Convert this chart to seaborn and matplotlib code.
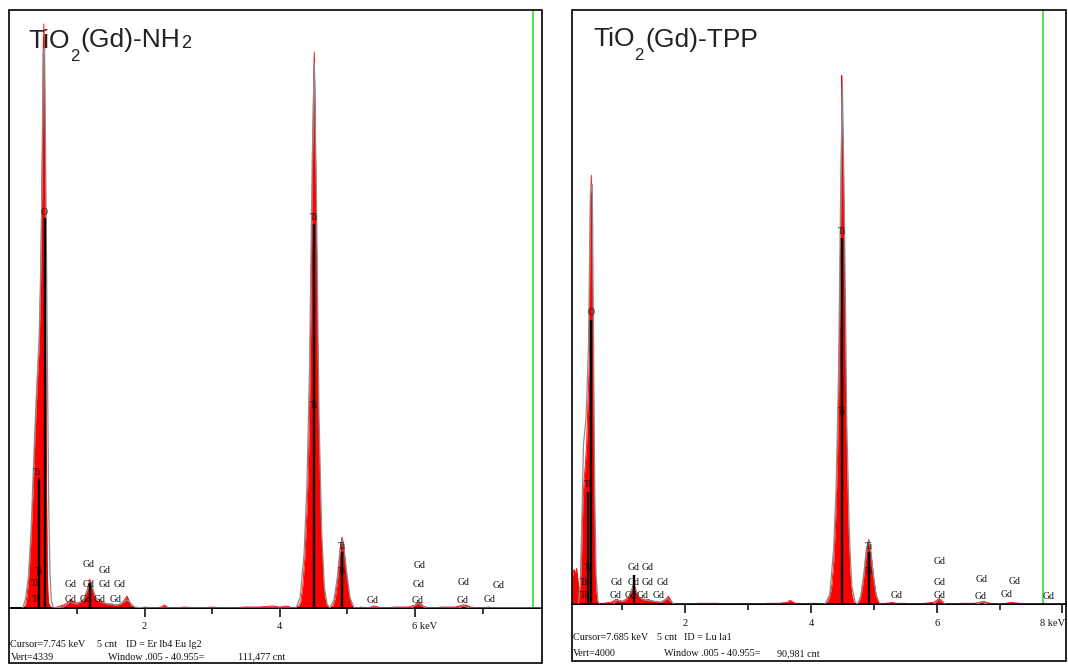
import matplotlib
matplotlib.use("Agg")
import matplotlib.pyplot as plt
from matplotlib.patches import Rectangle
from matplotlib.transforms import blended_transform_factory, offset_copy
import seaborn as sns

# ---------------- TiO2(Gd)-NH2 spectrum (counts per channel) ----------------
nh2_kev = [0.20, 0.22, 0.24, 0.26, 0.28, 0.30, 0.32, 0.34, 0.36, 0.38, 0.40, 0.42, 0.44, 0.46,
           0.48, 0.49, 0.50, 0.51, 0.52, 0.53, 0.54, 0.55, 0.56, 0.57, 0.58, 0.60, 0.62,
           0.66, 0.70, 0.75, 0.80, 0.85, 0.90, 0.95, 1.00, 1.05, 1.10, 1.15, 1.19, 1.22, 1.26,
           1.30, 1.35, 1.40, 1.45, 1.50, 1.55, 1.60, 1.65, 1.70, 1.74, 1.77, 1.80, 1.85, 1.90,
           2.00, 2.10, 2.25, 2.29, 2.33, 2.40, 2.60, 2.80, 3.00, 3.20, 3.50, 3.70, 3.90, 4.00,
           4.10, 4.20,
           4.25, 4.28, 4.31, 4.34, 4.37, 4.40, 4.42, 4.44, 4.46, 4.48, 4.50, 4.51, 4.52, 4.54,
           4.56, 4.58, 4.60, 4.62, 4.64, 4.66, 4.69, 4.72,
           4.76, 4.79, 4.82, 4.85, 4.88, 4.90, 4.92, 4.94, 4.96, 4.99, 5.02, 5.05, 5.08, 5.11,
           5.20, 5.30, 5.40, 5.50, 5.70, 5.90, 6.00, 6.04, 6.08, 6.12, 6.20, 6.40, 6.60, 6.70,
           6.75, 6.82, 7.00, 7.10, 7.20, 7.50, 7.87]
nh2_cnt = [0, 7, 22, 87, 181, 327, 508, 726, 980, 1270, 1487, 1705, 1901, 2322,
           3048, 3410, 4063, 4238, 3773, 2902, 1669, 798, 290, 109, 36, 15, 0,
           0, 7, 15, 22, 36, 58, 44, 36, 44, 65, 131, 210, 145, 73,
           51, 44, 36, 29, 29, 22, 22, 29, 58, 87, 51, 15, 7, 0,
           7, 0, 7, 22, 7, 0, 7, 0, 7, 0, 7, 7, 15, 7,
           15, 0,
           7, 15, 44, 160, 363, 689, 980, 1451, 2141, 3048, 3882, 4034, 3664, 2794,
           1850, 1161, 689, 435, 218, 87, 22, 0,
           0, 22, 73, 181, 348, 457, 515, 464, 363, 218, 102, 36, 7, 0,
           7, 0, 15, 0, 7, 7, 22, 44, 36, 15, 0, 7, 7, 22,
           22, 7, 0, 7, 0, 0, 0]
nh2_fit_kev = [0.20, 0.24, 0.28, 0.32, 0.36, 0.40, 0.44, 0.47, 0.50, 0.52, 0.54, 0.56, 0.58,
               0.60, 0.62, 0.65,
               0.80, 0.90, 1.00, 1.10, 1.20, 1.28, 1.40, 1.60, 1.75, 1.85, 2.00,
               4.24, 4.30, 4.36, 4.40, 4.44, 4.48, 4.51, 4.54, 4.58, 4.62, 4.66, 4.70, 4.74,
               4.80, 4.85, 4.89, 4.92, 4.95, 4.99, 5.04, 5.10,
               5.95, 6.05, 6.15, 6.65, 6.72, 6.80, 7.87]
nh2_fit_cnt = [0, 73, 218, 544, 1088, 1560, 1959, 2612, 4027, 4063, 3048, 1887, 798,
               254, 58, 0,
               7, 44, 29, 58, 189, 73, 36, 22, 58, 7, 0,
               0, 73, 399, 871, 1741, 3265, 3955, 3048, 1379, 544, 145, 29, 0,
               58, 218, 421, 493, 435, 254, 73, 0,
               0, 36, 0, 0, 15, 0, 0]
nh2_marker_kev = [0.52, 0.44, 4.506, 4.925, 1.19]
nh2_marker_cnt = [2830, 943, 2786, 406, 181]
nh2_label_text = ["O", "Ti", "Ti", "Ti", "Ti", "Ti", "Ti", "Ti", "Ti"] + ["Gd"] * 18
nh2_label_kev = [0.512, 0.408, 0.442, 0.379, 0.393, 4.506, 4.506, 4.925, 4.925,
                 1.173, 1.404, 0.911, 1.173, 1.414, 1.636, 0.911, 1.129, 1.340, 1.577,
                 5.374, 6.064, 6.049, 6.034, 6.725, 6.700, 7.243, 7.110]
nh2_label_cnt = [2873, 980, 268, 179, 65, 2830, 1466, 445, 263,
                 317, 271, 167, 167, 167, 167, 63, 63, 63, 63,
                 58, 305, 167, 58, 186, 58, 162, 63]
nh2_cursor_kev = 7.745
nh2_vert = 4339
nh2_major = [2, 4, 6]
nh2_tick_text = ["2", "4", "6 keV"]
nh2_minor = [1, 3, 5, 7]
nh2_status = ["Cursor=7.745 keV", "5 cnt", "ID = Er lb4 Eu lg2",
              "Vert=4339", "Window .005 - 40.955=", "111,477 cnt"]

# ---------------- TiO2(Gd)-TPP spectrum (counts per channel) ----------------
tpp_kev = [0.19, 0.21, 0.23, 0.25, 0.27, 0.29, 0.31, 0.33, 0.35, 0.37, 0.39, 0.41, 0.43, 0.45,
           0.47, 0.48, 0.49, 0.505, 0.52, 0.54, 0.56, 0.58, 0.60, 0.62,
           0.65, 0.70, 0.80, 0.85, 0.90, 0.95, 1.00, 1.05, 1.10, 1.15, 1.18, 1.21, 1.25, 1.30,
           1.35, 1.40, 1.45, 1.50, 1.55, 1.60, 1.65, 1.70, 1.73, 1.76, 1.80, 1.85,
           2.00, 2.10, 2.20, 2.30, 2.50, 2.70, 2.90, 3.10, 3.30, 3.50, 3.62, 3.67, 3.72, 3.80,
           4.00, 4.10, 4.18,
           4.22, 4.26, 4.30, 4.33, 4.36, 4.39, 4.42, 4.44, 4.46, 4.48, 4.49, 4.50, 4.52, 4.54,
           4.56, 4.58, 4.60, 4.62, 4.65, 4.68, 4.71,
           4.74, 4.77, 4.80, 4.83, 4.86, 4.89, 4.92, 4.94, 4.97, 5.00, 5.03, 5.06, 5.09,
           5.20, 5.30, 5.35, 5.50, 5.60, 5.80, 5.95, 6.00, 6.04, 6.08, 6.12, 6.20, 6.40, 6.60,
           6.68, 6.74, 6.80, 6.90, 7.10, 7.20, 7.30, 7.50, 7.70, 8.06]
tpp_cnt = [101, 202, 236, 202, 242, 168, 81, 121, 337, 673, 841, 942, 1077, 1346,
           1595, 2315, 2692, 2888, 2154, 1037, 363, 74, 20, 0,
           0, 7, 13, 20, 34, 27, 20, 27, 54, 101, 141, 101, 54, 34,
           27, 34, 27, 20, 20, 13, 20, 40, 54, 34, 7, 0,
           7, 0, 7, 7, 7, 0, 7, 0, 7, 7, 13, 27, 13, 0,
           7, 7, 0,
           0, 13, 54, 121, 269, 538, 942, 1414, 2019, 2894, 3561, 3366, 2625, 1817,
           1144, 673, 404, 202, 67, 13, 0,
           0, 20, 67, 148, 269, 377, 438, 390, 283, 168, 81, 27, 0,
           7, 13, 7, 7, 0, 7, 13, 27, 40, 27, 7, 0, 7, 7,
           13, 20, 13, 0, 7, 13, 7, 0, 7, 0]
tpp_fit_kev = [0.19, 0.25, 0.30, 0.33, 0.36, 0.38, 0.42, 0.46, 0.49, 0.52, 0.54, 0.56, 0.58,
               0.61, 0.64,
               0.85, 0.92, 1.00, 1.10, 1.18, 1.26, 1.40, 1.60, 1.72, 1.82,
               4.22, 4.30, 4.36, 4.40, 4.44, 4.47, 4.50, 4.53, 4.57, 4.61, 4.65, 4.70, 4.74,
               4.79, 4.84, 4.88, 4.92, 4.95, 4.99, 5.04, 5.10,
               5.95, 6.04, 6.14, 6.62, 6.72, 6.82, 8.06]
tpp_fit_cnt = [0, 0, 0, 135, 673, 1077, 1245, 1750, 2760, 2827, 1750, 740, 202,
               20, 0,
               0, 27, 20, 47, 128, 47, 27, 13, 40, 0,
               0, 67, 370, 774, 1582, 2692, 3500, 2692, 1212, 471, 121, 20, 0,
               54, 202, 370, 431, 370, 202, 54, 0,
               0, 34, 0, 0, 13, 0, 0]
tpp_marker_kev = [0.505, 0.45, 4.493, 4.928, 1.18]
tpp_marker_cnt = [1912, 754, 2464, 350, 195]
tpp_label_text = ["O", "Ti", "Ti", "Ti", "Ti", "Ti", "Ti", "Ti", "Ti"] + ["Gd"] * 19
tpp_label_kev = [0.500, 0.452, 0.457, 0.388, 0.388, 4.493, 4.493, 4.928, 4.928,
                 1.184, 1.395, 0.909, 1.184, 1.395, 1.634, 0.897, 1.136, 1.316, 1.570,
                 5.364, 6.052, 6.052, 6.052, 6.716, 6.700, 7.246, 7.114, 7.787]
tpp_label_cnt = [1961, 803, 246, 150, 61, 2506, 1301, 392, 219,
                 246, 246, 150, 150, 150, 150, 56, 56, 56, 56,
                 56, 285, 150, 56, 164, 51, 152, 63, 51]
tpp_cursor_kev = 7.685
tpp_vert = 4000
tpp_major = [2, 4, 6, 8]
tpp_tick_text = ["2", "4", "6", "8 keV"]
tpp_minor = [1, 3, 5, 7]
tpp_status = ["Cursor=7.685 keV", "5 cnt", "ID = Lu la1",
              "Vert=4000", "Window .005 - 40.955=", "90,981 cnt"]

# ---------------------------------------------------------------------------
sns.set_style("white")
plt.rcParams["font.family"] = ["Liberation Sans", "DejaVu Sans"]

W, H = 1068, 664
fig = plt.figure(figsize=(W / 100, H / 100), dpi=100)
renderer = fig.canvas.get_renderer()

SERIF = "Liberation Serif"
INK = "#111111"


def fx(px):
    return px / W


def fy(py):
    return 1 - py / H


def draw_title(x_start, y_base, parts):
    """Lay out title pieces one after another; each piece has its own size and drop."""
    x = x_start
    for txt, drop, size, gap in parts:
        t = fig.text(fx(x), fy(y_base + drop), txt, ha="left", va="baseline",
                     fontsize=size, color="#222222", family=["Liberation Sans", "DejaVu Sans"])
        bb = t.get_window_extent(renderer)
        x = bb.x1 + gap


def draw_panel(box, kev, cnt, fit_kev, fit_cnt, mk_kev, mk_cnt, lab_txt, lab_kev, lab_cnt,
               cursor, vert, major, tick_text, minor, status):
    x0, x1, top, base, bottom, e0, e1, tick_y, line_y, status_x = box
    ax = fig.add_axes([fx(x0), fy(base), fx(x1 - x0), (base - top) / H])

    # measured spectrum (red) and fitted envelope (grey)
    ax.fill_between(kev, cnt, 0, color="#ff0000", lw=0, zorder=2)
    sns.lineplot(x=kev, y=cnt, color="#ff0000", lw=0.6, ax=ax, zorder=2)
    sns.lineplot(x=fit_kev, y=fit_cnt, color="#8c8c8c", lw=0.9, ax=ax, zorder=3)

    # KLM line markers and element labels
    ax.vlines(mk_kev, 0, mk_cnt, color="black", lw=1.7, zorder=4)
    for t, e, c in zip(lab_txt, lab_kev, lab_cnt):
        ax.text(e, c, t, ha="center", va="center", fontsize=7, family=SERIF,
                color=INK, zorder=5)

    # cursor
    ax.axvline(cursor, color="#3fe03f", lw=1.3, zorder=1)

    ax.set_xlim(e0, e1)
    ax.set_ylim(0, vert)
    ax.set_xlabel("")
    ax.set_ylabel("")
    for s in ("left", "right", "top"):
        ax.spines[s].set_visible(False)
    ax.spines["bottom"].set_linewidth(1.4)
    ax.spines["bottom"].set_color("black")
    ax.set_yticks([])
    ax.set_xticks(major)
    ax.set_xticks(minor, minor=True)
    ax.set_xticklabels([])
    ax.tick_params(axis="x", which="major", direction="out", length=6.5, width=1.1,
                   color="black", bottom=True)
    ax.tick_params(axis="x", which="minor", direction="out", length=4.3, width=1.1,
                   color="black", bottom=True)

    tr = blended_transform_factory(ax.transData, fig.transFigure)
    for v, t in zip(major, tick_text):
        if "keV" in t and v > 7:
            fig.text(fx(x1 - 1), fy(tick_y), t, ha="right", va="center",
                     fontsize=7.5, family=SERIF, color=INK)
        elif "keV" in t:
            ax.text(v, fy(tick_y), t, ha="left", va="center", fontsize=7.5, family=SERIF,
                    color=INK, transform=offset_copy(tr, fig=fig, x=-3, units="dots"))
        else:
            ax.text(v, fy(tick_y), t, ha="center", va="center", fontsize=7.5,
                    family=SERIF, color=INK, transform=tr)

    # status lines under the axis
    (sx0, sx1, sx2), (sx3, sx4, sx5) = status_x
    for txt, px, py in zip(status, [sx0, sx1, sx2, sx3, sx4, sx5],
                           [line_y[0]] * 3 + [line_y[1]] * 3):
        fig.text(fx(px), fy(py), txt, ha="left", va="center", fontsize=7.3,
                 family=SERIF, color=INK)

    # panel frame
    fig.add_artist(Rectangle((fx(x0), fy(bottom)), fx(x1 - x0), (bottom - top) / H,
                             transform=fig.transFigure, fill=False, ec="black", lw=1.2))


draw_panel((9.4, 541.7, 10, 608, 663, 0.0, 7.874, 626.7, (644.3, 657),
            ((10.5, 97, 126), (10.5, 108, 238))),
           nh2_kev, nh2_cnt, nh2_fit_kev, nh2_fit_cnt, nh2_marker_kev, nh2_marker_cnt,
           nh2_label_text, nh2_label_kev, nh2_label_cnt, nh2_cursor_kev, nh2_vert,
           nh2_major, nh2_tick_text, nh2_minor, nh2_status)

draw_panel((571.7, 1066, 10, 604.3, 661, 0.1925, 8.058, 623.3, (637.3, 653.3),
            ((572.7, 657, 684), (572.7, 664, 777))),
           tpp_kev, tpp_cnt, tpp_fit_kev, tpp_fit_cnt, tpp_marker_kev, tpp_marker_cnt,
           tpp_label_text, tpp_label_kev, tpp_label_cnt, tpp_cursor_kev, tpp_vert,
           tpp_major, tpp_tick_text, tpp_minor, tpp_status)

draw_title(28.2, 47.5, [("TiO", 0, 19, 0), ("2", 13.5, 12, 1.5),
                        ("(Gd)-NH", 0, 19, 0.5), ("2", 0, 13, 0)])
draw_title(592.9, 46.5, [("TiO", 0, 19, 0), ("2", 13.5, 12, 1.5),
                         ("(Gd)-TPP", 0, 19, 0)])

fig.savefig("out.png", dpi=100, facecolor="white")
